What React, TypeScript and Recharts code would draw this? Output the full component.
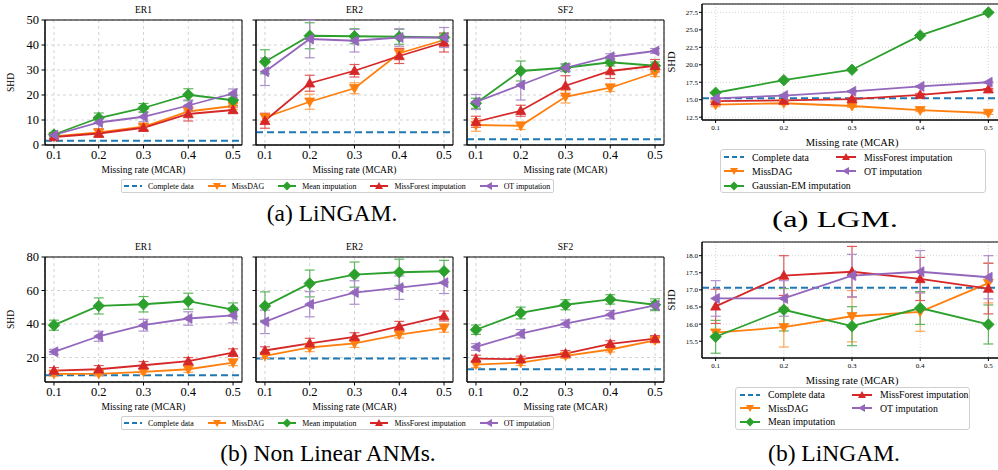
import React from "react";
import { LineChart, Line, XAxis, YAxis, CartesianGrid, ReferenceLine, ReferenceArea, ErrorBar } from "recharts";

const SERIF = "'Liberation Serif', 'Times New Roman', Times, Tinos, 'Noto Serif', 'DejaVu Serif', serif";

const RATES = [0.1, 0.2, 0.3, 0.4, 0.5];
const X_DOMAIN: [number, number] = [0.08, 0.52];

// (a) LiNGAM — ER1
const A_ER1_COMPLETE = 1.7;
const A_ER1_MISSDAG = [3.4, 5.0, 7.3, 13.4, 15.6];
const A_ER1_MISSDAG_ERR = [0.8, 1.5, 1.2, 1.8, 1.3];
const A_ER1_MEAN = [4.2, 10.8, 14.8, 20.1, 17.9];
const A_ER1_MEAN_ERR = [0.8, 2.0, 1.8, 2.4, 2.0];
const A_ER1_MISSFOREST = [3.2, 4.6, 6.9, 12.4, 14.0];
const A_ER1_MISSFOREST_ERR = [0.6, 1.5, 1.2, 2.8, 1.2];
const A_ER1_OT = [4.0, 9.0, 11.3, 15.8, 20.6];
const A_ER1_OT_ERR = [0.8, 2.5, 2.0, 2.2, 1.8];

// (a) LiNGAM — ER2
const A_ER2_COMPLETE = 5.1;
const A_ER2_MISSDAG = [11.0, 17.3, 22.7, 36.7, 42.0];
const A_ER2_MISSDAG_ERR = [1.5, 3.0, 2.2, 2.0, 1.8];
const A_ER2_MEAN = [33.3, 43.7, 43.5, 43.3, 43.0];
const A_ER2_MEAN_ERR = [4.8, 5.2, 3.0, 3.0, 1.5];
const A_ER2_MISSFOREST = [9.7, 24.7, 29.7, 35.6, 41.0];
const A_ER2_MISSFOREST_ERR = [3.0, 3.2, 2.5, 3.0, 3.8];
const A_ER2_OT = [29.3, 42.4, 41.7, 43.0, 43.0];
const A_ER2_OT_ERR = [5.5, 7.5, 4.5, 3.5, 4.0];

// (a) LiNGAM — SF2
const A_SF2_COMPLETE = 2.3;
const A_SF2_MISSDAG = [8.0, 7.7, 19.3, 22.9, 28.9];
const A_SF2_MISSDAG_ERR = [2.5, 1.5, 2.5, 1.5, 1.5];
const A_SF2_MEAN = [16.7, 29.6, 30.9, 33.1, 31.7];
const A_SF2_MEAN_ERR = [2.0, 4.0, 1.5, 1.5, 1.5];
const A_SF2_MISSFOREST = [9.3, 13.7, 23.7, 29.6, 31.7];
const A_SF2_MISSFOREST_ERR = [2.2, 2.2, 4.0, 3.0, 2.5];
const A_SF2_OT = [17.2, 24.0, 30.9, 35.3, 37.6];
const A_SF2_OT_ERR = [3.0, 6.0, 1.5, 1.2, 1.0];

// (b) Non Linear ANMs — ER1
const B_ER1_COMPLETE = 9.5;
const B_ER1_MISSDAG = [10.3, 10.3, 11.5, 13.0, 17.0];
const B_ER1_MISSDAG_ERR = [1.5, 1.2, 1.5, 1.8, 1.8];
const B_ER1_MEAN = [39.3, 50.8, 51.8, 53.6, 48.6];
const B_ER1_MEAN_ERR = [3.0, 4.8, 4.6, 4.8, 4.0];
const B_ER1_MISSFOREST = [12.2, 13.0, 15.4, 17.8, 23.0];
const B_ER1_MISSFOREST_ERR = [1.8, 2.2, 2.2, 2.2, 2.2];
const B_ER1_OT = [23.4, 32.7, 39.3, 43.3, 45.2];
const B_ER1_OT_ERR = [1.5, 3.0, 3.5, 4.0, 4.5];

// (b) Non Linear ANMs — ER2
const B_ER2_COMPLETE = 19.4;
const B_ER2_MISSDAG = [21.0, 26.0, 28.5, 33.7, 37.6];
const B_ER2_MISSDAG_ERR = [1.5, 2.5, 2.5, 2.0, 2.5];
const B_ER2_MEAN = [50.7, 64.2, 69.5, 70.9, 71.5];
const B_ER2_MEAN_ERR = [8.5, 8.0, 7.5, 7.8, 6.5];
const B_ER2_MISSFOREST = [24.2, 28.5, 32.3, 38.6, 44.8];
const B_ER2_MISSFOREST_ERR = [2.2, 3.0, 2.5, 3.0, 3.0];
const B_ER2_OT = [41.3, 51.8, 58.8, 61.7, 64.7];
const B_ER2_OT_ERR = [7.0, 7.5, 7.0, 7.0, 6.5];

// (b) Non Linear ANMs — SF2
const B_SF2_COMPLETE = 13.0;
const B_SF2_MISSDAG = [15.8, 17.0, 21.0, 24.8, 30.3];
const B_SF2_MISSDAG_ERR = [1.8, 1.8, 1.5, 1.5, 1.5];
const B_SF2_MEAN = [36.6, 46.6, 51.5, 54.7, 51.5];
const B_SF2_MEAN_ERR = [2.8, 3.5, 3.0, 2.8, 3.5];
const B_SF2_MISSFOREST = [19.4, 19.0, 22.4, 28.2, 31.3];
const B_SF2_MISSFOREST_ERR = [2.0, 1.8, 1.8, 1.8, 1.8];
const B_SF2_OT = [26.3, 34.2, 40.2, 45.6, 51.1];
const B_SF2_OT_ERR = [2.0, 2.5, 2.2, 2.5, 2.5];

// right (a) LGM
const LGM_COMPLETE = 15.2;
const LGM_MISSDAG = [14.3, 14.5, 14.1, 13.5, 13.1];
const LGM_MISSDAG_ERR = [0.3, 0.2, 0.2, 0.2, 0.2];
const LGM_GAUSSIAN_EM = [16.0, 17.8, 19.3, 24.2, 27.5];
const LGM_GAUSSIAN_EM_ERR = [0.1, 0.1, 0.1, 0.1, 0.1];
const LGM_MISSFOREST = [14.8, 14.9, 15.1, 15.7, 16.5];
const LGM_MISSFOREST_ERR = [0.2, 0.1, 0.2, 0.2, 0.1];
const LGM_OT = [15.2, 15.6, 16.2, 16.9, 17.5];
const LGM_OT_ERR = [0.1, 0.1, 0.1, 0.1, 0.1];

// right (b) LiNGAM
const LIN_COMPLETE = 17.06;
const LIN_MISSDAG = [15.75, 15.91, 16.23, 16.36, 17.2];
const LIN_MISSDAG_ERR = [0.08, 0.58, 0.75, 0.57, 0.58];
const LIN_MEAN = [15.63, 16.42, 15.94, 16.47, 15.99];
const LIN_MEAN_ERR = [0.48, 0.62, 0.57, 0.48, 0.57];
const LIN_MISSFOREST = [16.52, 17.42, 17.53, 17.32, 17.04];
const LIN_MISSFOREST_ERR = [0.5, 0.58, 0.74, 0.63, 0.74];
const LIN_OT = [16.75, 16.75, 17.42, 17.53, 17.37];
const LIN_OT_ERR = [0.52, 0.52, 0.62, 0.62, 0.63];

const LEFT_TICKS_A = [0, 10, 20, 30, 40, 50];
const LEFT_TICKS_B = [20, 40, 60, 80];
const LGM_TICKS = [12.5, 15.0, 17.5, 20.0, 22.5, 25.0, 27.5];
const LIN_TICKS = [15.5, 16.0, 16.5, 17.0, 17.5, 18.0];

const COLORS: Record<string, string> = {
  complete: "#1f77b4",
  missdag: "#ff7f0e",
  mean: "#2ca02c",
  missforest: "#d62728",
  ot: "#9467bd",
};
const ERR_COLORS: Record<string, string> = {
  missdag: "#ffa557",
  mean: "#5db65d",
  missforest: "#e05a5a",
  ot: "#ad91cc",
};
const SHAPES: Record<string, string> = { missdag: "v", mean: "D", missforest: "^", ot: "<" };
const KEYS = ["missdag", "mean", "missforest", "ot"];

function buildRows(m: number[], mE: number[], g: number[], gE: number[], f: number[], fE: number[], o: number[], oE: number[]) {
  return RATES.map((rate, i) => ({
    rate,
    missdag: m[i], missdagErr: mE[i],
    mean: g[i], meanErr: gE[i],
    missforest: f[i], missforestErr: fE[i],
    ot: o[i], otErr: oE[i],
  }));
}

function markerPath(shape: string, cx: number, cy: number, s: number) {
  switch (shape) {
    case "v":
      return `M${cx - s},${cy - s * 0.75}L${cx + s},${cy - s * 0.75}L${cx},${cy + s}Z`;
    case "^":
      return `M${cx - s},${cy + s * 0.75}L${cx + s},${cy + s * 0.75}L${cx},${cy - s}Z`;
    case "<":
      return `M${cx - s},${cy}L${cx + s * 0.75},${cy - s}L${cx + s * 0.75},${cy + s}Z`;
    default:
      return `M${cx},${cy - s}L${cx + s},${cy}L${cx},${cy + s}L${cx - s},${cy}Z`;
  }
}

const makeDot = (k: string, size: number) => (props: any) => {
  const { cx, cy, index } = props;
  if (cx == null || cy == null) return <g key={`${k}-${index}`} />;
  const s = SHAPES[k] === "D" ? size * 1.15 : size;
  return <path key={`${k}-${index}`} d={markerPath(SHAPES[k], cx, cy, s)} fill={COLORS[k]} stroke={COLORS[k]} strokeWidth={0.8} />;
};

type PanelProps = {
  x: number; y: number; w: number; h: number;
  rows: any[]; complete: number;
  yDomain: [number, number]; yTicks: number[];
  yLabels: boolean; yTitle: boolean;
  yAxisW: number; xAxisH: number; xLabelOffset: number;
  tickFs: number; labelFs: number; tickSize: number; xTickMargin: number; yTickMargin: number;
  yTitleOffset: number;
  yFmt: (v: number) => string;
  gridDash: string;
  markerSize: number;
};

function Panel(p: PanelProps) {
  const padTop = 8;
  const padRight = 8;
  const tickStyle = { fill: "#000", fontSize: p.tickFs, fontFamily: SERIF };
  return (
    <div style={{ position: "absolute", left: p.x - p.yAxisW, top: p.y - padTop }}>
      <LineChart
        width={p.yAxisW + p.w + padRight}
        height={padTop + p.h + p.xAxisH}
        data={p.rows}
        margin={{ top: padTop, right: padRight, left: 0, bottom: 0 }}
      >
        <CartesianGrid stroke="#d4d4d4" strokeDasharray={p.gridDash} />
        <XAxis
          dataKey="rate"
          type="number"
          domain={X_DOMAIN}
          ticks={RATES}
          allowDataOverflow
          tickFormatter={(v: number) => v.toFixed(1)}
          height={p.xAxisH}
          tickSize={p.tickSize}
          tickMargin={p.xTickMargin}
          stroke="#000"
          tick={tickStyle}
          label={{ value: "Missing rate (MCAR)", position: "insideBottom", offset: p.xLabelOffset, fontSize: p.labelFs, fill: "#000", fontFamily: SERIF }}
        />
        <YAxis
          type="number"
          domain={p.yDomain}
          ticks={p.yTicks}
          allowDataOverflow
          width={p.yAxisW}
          tickSize={p.tickSize}
          tickMargin={p.yTickMargin}
          stroke="#000"
          tick={tickStyle}
          tickFormatter={p.yLabels ? p.yFmt : () => ""}
          label={p.yTitle ? { value: "SHD", angle: -90, position: "insideLeft", offset: p.yTitleOffset, style: { textAnchor: "middle" }, fontSize: p.labelFs, fill: "#000", fontFamily: SERIF } : undefined}
        />
        <ReferenceArea x1={X_DOMAIN[0]} x2={X_DOMAIN[1]} y1={p.yDomain[0]} y2={p.yDomain[1]} fill="none" fillOpacity={0} stroke="#000" strokeWidth={1} ifOverflow="visible" />
        <ReferenceLine y={p.complete} stroke={COLORS.complete} strokeWidth={2} strokeDasharray="7 4" />
        {KEYS.map((k) => (
          <Line
            key={k}
            dataKey={k}
            stroke={COLORS[k]}
            strokeWidth={1.8}
            dot={makeDot(k, p.markerSize)}
            activeDot={false}
            isAnimationActive={false}
          >
            <ErrorBar dataKey={`${k}Err`} width={5} stroke={ERR_COLORS[k]} strokeWidth={1.2} direction="y" />
          </Line>
        ))}
      </LineChart>
    </div>
  );
}

function Icon({ k, w }: { k: string; w: number }) {
  return (
    <svg width={w} height={10} style={{ flex: "none" }}>
      <line x1={0} y1={5} x2={w} y2={5} stroke={COLORS[k]} strokeWidth={2} strokeDasharray={k === "complete" ? "5 3" : undefined} />
      {k !== "complete" && <path d={markerPath(SHAPES[k], w / 2, 5, SHAPES[k] === "D" ? 4.5 : 4)} fill={COLORS[k]} />}
    </svg>
  );
}

const LEFT_LEGEND = [
  { k: "complete", name: "Complete data" },
  { k: "missdag", name: "MissDAG" },
  { k: "mean", name: "Mean imputation" },
  { k: "missforest", name: "MissForest imputation" },
  { k: "ot", name: "OT imputation" },
];

function RowLegend({ top }: { top: number }) {
  return (
    <div style={{ position: "absolute", left: 121, top, width: 429, height: 12, border: "1px solid #cfcfcf", borderRadius: 2, display: "flex", alignItems: "center", paddingLeft: 2, gap: 14, fontFamily: SERIF, fontSize: 7.9 }}>
      {LEFT_LEGEND.map((it) => (
        <div key={it.k} style={{ display: "flex", alignItems: "center", gap: 6, whiteSpace: "nowrap" }}>
          <Icon k={it.k} w={18} />
          <span>{it.name}</span>
        </div>
      ))}
    </div>
  );
}

function GridLegend({ left, top, width, height, items, rowH, padL, fs }: any) {
  return (
    <div style={{ position: "absolute", left, top, width, height, border: "1px solid #cfcfcf", borderRadius: 3, boxSizing: "border-box", fontFamily: SERIF, fontSize: fs, paddingLeft: padL, paddingTop: 0, display: "grid", gridTemplateColumns: "112px auto", gridAutoFlow: "column", gridTemplateRows: `repeat(3, ${rowH}px)` }}>
      {items.map((it: any) => (
        <div key={it.k} style={{ display: "flex", alignItems: "center", gap: 8, whiteSpace: "nowrap" }}>
          <Icon k={it.k} w={20} />
          <span>{it.name}</span>
        </div>
      ))}
    </div>
  );
}

function Title({ x, y, w, text }: { x: number; y: number; w: number; text: string }) {
  return <div style={{ position: "absolute", left: x, top: y - 6, width: w, height: 12, lineHeight: "12px", textAlign: "center", fontFamily: SERIF, fontSize: 9.5 }}>{text}</div>;
}

function Caption({ cx, cy, text, fs, sx = 1 }: { cx: number; cy: number; text: string; fs: number; sx?: number }) {
  return <div style={{ position: "absolute", left: cx - 200, top: cy - 15, width: 400, height: 30, lineHeight: "30px", textAlign: "center", fontFamily: SERIF, fontSize: fs, transform: `scaleX(${sx})` }}>{text}</div>;
}

const leftCommon = {
  w: 197, h: 125, yAxisW: 45, xAxisH: 30, xLabelOffset: 2,
  tickFs: 12.5, labelFs: 9.5, tickSize: 3.5, xTickMargin: 1.7, yTickMargin: 2.5,
  yTitleOffset: 11, yFmt: (v: number) => String(v), gridDash: "3 3", markerSize: 5,
};
const rightCommon = {
  w: 300, h: 116, yAxisW: 35, xAxisH: 28, xLabelOffset: 2.3,
  tickFs: 7, labelFs: 10.5, tickSize: 3, xTickMargin: 1.8, yTickMargin: 1,
  yTitleOffset: 4, yFmt: (v: number) => v.toFixed(1), gridDash: "1 2", markerSize: 5,
};

const PANELS_LEFT = [
  { title: "ER1", x: 45, y: 20, rows: buildRows(A_ER1_MISSDAG, A_ER1_MISSDAG_ERR, A_ER1_MEAN, A_ER1_MEAN_ERR, A_ER1_MISSFOREST, A_ER1_MISSFOREST_ERR, A_ER1_OT, A_ER1_OT_ERR), complete: A_ER1_COMPLETE, first: true, b: false },
  { title: "ER2", x: 256, y: 20, rows: buildRows(A_ER2_MISSDAG, A_ER2_MISSDAG_ERR, A_ER2_MEAN, A_ER2_MEAN_ERR, A_ER2_MISSFOREST, A_ER2_MISSFOREST_ERR, A_ER2_OT, A_ER2_OT_ERR), complete: A_ER2_COMPLETE, first: false, b: false },
  { title: "SF2", x: 467, y: 20, rows: buildRows(A_SF2_MISSDAG, A_SF2_MISSDAG_ERR, A_SF2_MEAN, A_SF2_MEAN_ERR, A_SF2_MISSFOREST, A_SF2_MISSFOREST_ERR, A_SF2_OT, A_SF2_OT_ERR), complete: A_SF2_COMPLETE, first: false, b: false },
  { title: "ER1", x: 45, y: 257, rows: buildRows(B_ER1_MISSDAG, B_ER1_MISSDAG_ERR, B_ER1_MEAN, B_ER1_MEAN_ERR, B_ER1_MISSFOREST, B_ER1_MISSFOREST_ERR, B_ER1_OT, B_ER1_OT_ERR), complete: B_ER1_COMPLETE, first: true, b: true },
  { title: "ER2", x: 256, y: 257, rows: buildRows(B_ER2_MISSDAG, B_ER2_MISSDAG_ERR, B_ER2_MEAN, B_ER2_MEAN_ERR, B_ER2_MISSFOREST, B_ER2_MISSFOREST_ERR, B_ER2_OT, B_ER2_OT_ERR), complete: B_ER2_COMPLETE, first: false, b: true },
  { title: "SF2", x: 467, y: 257, rows: buildRows(B_SF2_MISSDAG, B_SF2_MISSDAG_ERR, B_SF2_MEAN, B_SF2_MEAN_ERR, B_SF2_MISSFOREST, B_SF2_MISSFOREST_ERR, B_SF2_OT, B_SF2_OT_ERR), complete: B_SF2_COMPLETE, first: false, b: true },
];

const LGM_ROWS = buildRows(LGM_MISSDAG, LGM_MISSDAG_ERR, LGM_GAUSSIAN_EM, LGM_GAUSSIAN_EM_ERR, LGM_MISSFOREST, LGM_MISSFOREST_ERR, LGM_OT, LGM_OT_ERR);
const LIN_ROWS = buildRows(LIN_MISSDAG, LIN_MISSDAG_ERR, LIN_MEAN, LIN_MEAN_ERR, LIN_MISSFOREST, LIN_MISSFOREST_ERR, LIN_OT, LIN_OT_ERR);

export default function App() {
  return (
    <div style={{ position: "fixed", left: 0, top: 0, width: 998, height: 470, overflow: "hidden", background: "#fff", color: "#000" }}>
      {PANELS_LEFT.map((p, i) => (
        <React.Fragment key={i}>
          <Title x={p.x} y={p.b ? 247 : 10} w={197} text={p.title} />
          <Panel
            {...leftCommon}
            x={p.x}
            y={p.y}
            rows={p.rows}
            complete={p.complete}
            yDomain={p.b ? [5.4, 80] : [0, 50]}
            yTicks={p.b ? LEFT_TICKS_B : LEFT_TICKS_A}
            yLabels={p.first}
            yTitle={p.first}
          />
        </React.Fragment>
      ))}
      <RowLegend top={179} />
      <RowLegend top={416} />
      <Caption cx={332} cy={213} text="(a) LiNGAM." fs={23.5} />
      <Caption cx={328} cy={453} text="(b) Non Linear ANMs." fs={23.5} />

      <Panel {...rightCommon} x={702} y={4} rows={LGM_ROWS} complete={LGM_COMPLETE} yDomain={[12.1, 28.7]} yTicks={LGM_TICKS} yLabels yTitle />
      <GridLegend
        left={720} top={149} width={266} height={44} rowH={14.3} padL={3} fs={9.8}
        items={[
          { k: "complete", name: "Complete data" },
          { k: "missdag", name: "MissDAG" },
          { k: "mean", name: "Gaussian-EM imputation" },
          { k: "missforest", name: "MissForest imputation" },
          { k: "ot", name: "OT imputation" },
        ]}
      />
      <Caption cx={835} cy={219} text="(a) LGM." fs={23.5} sx={1.4} />

      <Panel {...rightCommon} x={702} y={242} rows={LIN_ROWS} complete={LIN_COMPLETE} yDomain={[15.01, 18.4]} yTicks={LIN_TICKS} yLabels yTitle />
      <GridLegend
        left={735} top={387} width={235} height={43} rowH={13.5} padL={4} fs={9.8}
        items={[
          { k: "complete", name: "Complete data" },
          { k: "missdag", name: "MissDAG" },
          { k: "mean", name: "Mean imputation" },
          { k: "missforest", name: "MissForest imputation" },
          { k: "ot", name: "OT imputation" },
        ]}
      />
      <Caption cx={834} cy={453} text="(b) LiNGAM." fs={23.5} />
    </div>
  );
}
